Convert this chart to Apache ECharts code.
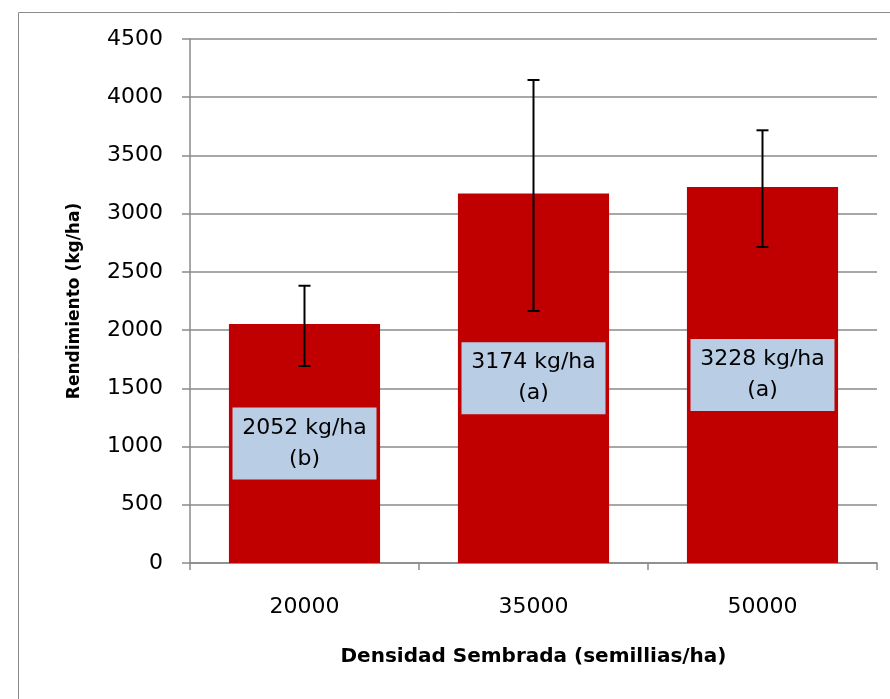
<!DOCTYPE html>
<html>
<head>
<meta charset="utf-8">
<style>
  html, body { margin: 0; padding: 0; background: #fff; }
  #chart { width: 890px; height: 699px; }
</style>
<script src="https://cdn.jsdelivr.net/npm/echarts@6/dist/echarts.min.js"></script>
</head>
<body>
<div id="chart"></div>
<script>
// ---- data ----
const categories = ['20000', '35000', '50000'];
const yieldValues = [2052, 3174, 3228];
const groupLetters = ['b', 'a', 'a'];
const errLow = [1692, 2164, 2714];
const errHigh = [2381, 4148, 3716];
const yTicks = { min: 0, max: 4500, interval: 500 };

const FONT = 'DejaVu Sans';
const GRAY = '#8a8a8a';

const chart = echarts.init(document.getElementById('chart'), null, { renderer: 'canvas' });

const option = {
  animation: false,
  backgroundColor: '#fff',
  graphic: [{
    type: 'rect',
    shape: { x: 18.5, y: 12.5, width: 900, height: 720 },
    style: { fill: 'none', stroke: '#8c8c8c', lineWidth: 1 },
    silent: true,
    z: -1
  }],
  grid: { left: 190, right: 13, top: 39, bottom: 136, containLabel: false },
  xAxis: {
    type: 'category',
    data: categories,
    boundaryGap: true,
    name: 'Densidad Sembrada (semillias/ha)',
    nameLocation: 'middle',
    nameGap: 84,
    nameTextStyle: { fontFamily: FONT, fontWeight: 'bold', fontSize: 20, color: '#000' },
    axisLine: { show: true, lineStyle: { color: GRAY, width: 1.5 } },
    axisTick: { show: true, length: 7, lineStyle: { color: GRAY, width: 1.5 } },
    axisLabel: { fontFamily: FONT, fontSize: 22, color: '#000', margin: 33 },
    splitLine: { show: false }
  },
  yAxis: {
    type: 'value',
    min: yTicks.min,
    max: yTicks.max,
    interval: yTicks.interval,
    name: 'Rendimiento (kg/ha)',
    nameLocation: 'middle',
    nameGap: 107,
    nameTextStyle: { fontFamily: FONT, fontWeight: 'bold', fontSize: 17, color: '#000' },
    axisLine: { show: true, lineStyle: { color: GRAY, width: 1.5 } },
    axisTick: { show: true, length: 8, lineStyle: { color: GRAY, width: 1.5 } },
    axisLabel: {
      fontFamily: FONT, fontSize: 22, color: '#000', margin: 27,
      formatter: (v) => String(v)
    },
    splitLine: { show: true, lineStyle: { color: GRAY, width: 1.5 } }
  },
  series: [
    {
      type: 'bar',
      data: yieldValues,
      barWidth: '66%',
      itemStyle: { color: '#C00000' },
      label: {
        show: true,
        position: 'inside',
        formatter: (p) => p.value + ' kg/ha\n(' + groupLetters[p.dataIndex] + ')',
        fontFamily: FONT,
        fontSize: 22,
        color: '#000',
        lineHeight: 31,
        align: 'center',
        width: 144,
        padding: [10, 0, 0, 0],
        backgroundColor: '#B9CDE5'
      },
      z: 2
    },
    {
      type: 'custom',
      data: categories.map((c, i) => [i, errLow[i], errHigh[i]]),
      renderItem: function (params, api) {
        const x = api.value(0);
        const lo = api.coord([x, api.value(1)]);
        const hi = api.coord([x, api.value(2)]);
        const half = 6;
        const style = { stroke: '#000', lineWidth: 2 };
        return {
          type: 'group',
          children: [
            { type: 'line', shape: { x1: lo[0], y1: lo[1], x2: hi[0], y2: hi[1] }, style: style },
            { type: 'line', shape: { x1: hi[0] - half, y1: hi[1], x2: hi[0] + half, y2: hi[1] }, style: style },
            { type: 'line', shape: { x1: lo[0] - half, y1: lo[1], x2: lo[0] + half, y2: lo[1] }, style: style }
          ]
        };
      },
      z: 5
    }
  ]
};

chart.setOption(option);
</script>
</body>
</html>
